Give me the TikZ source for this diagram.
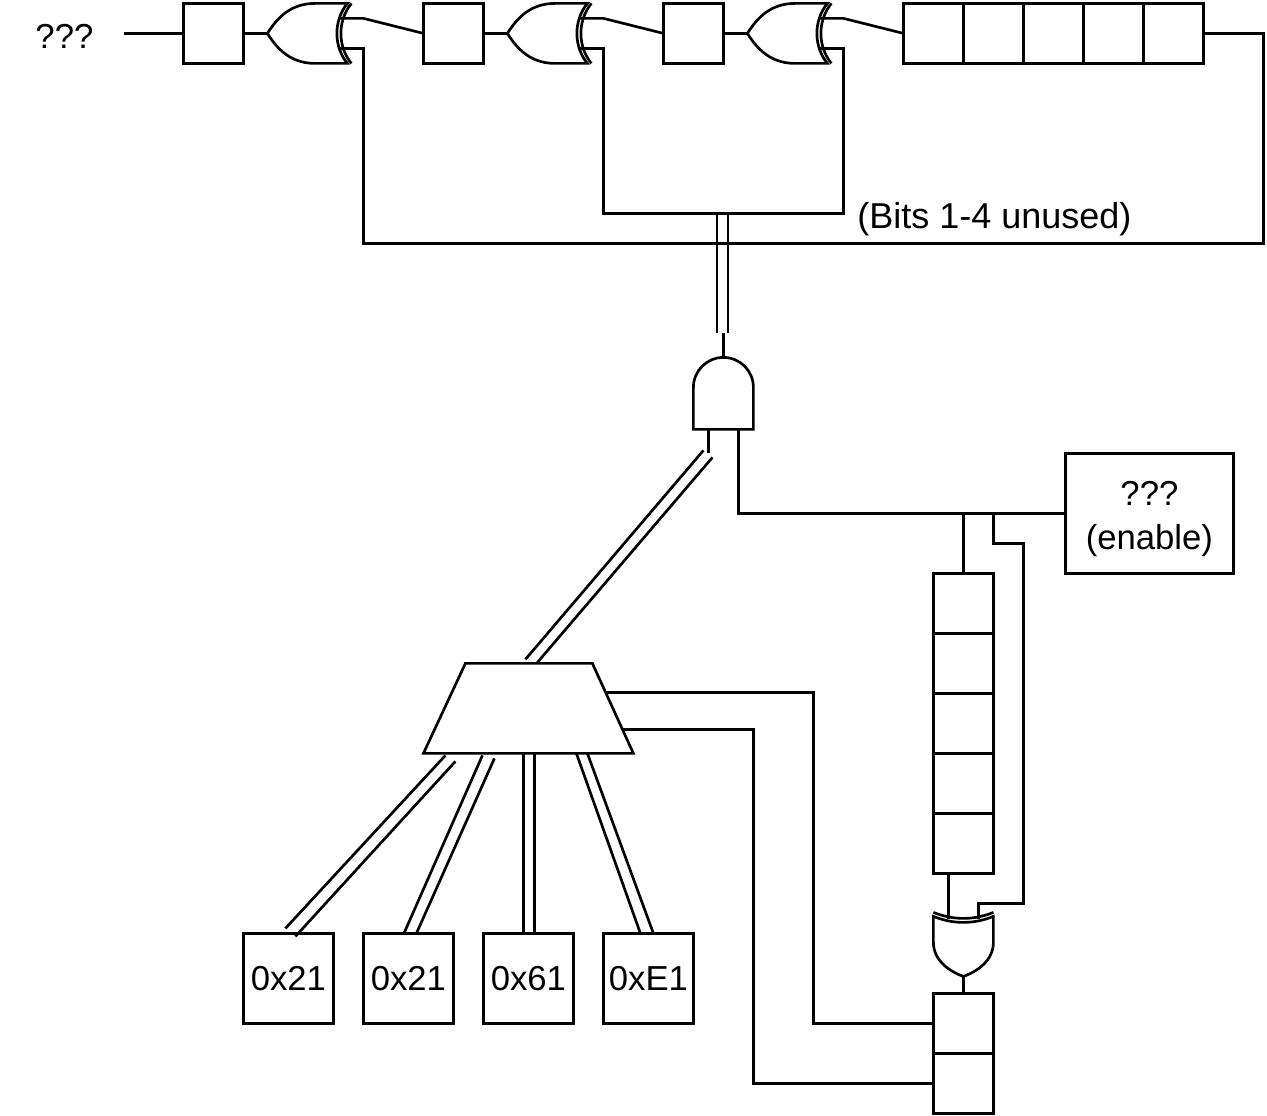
\documentclass[tikz,border=0pt]{standalone}
\usepackage{fontspec}
\setmainfont{Liberation Sans}
\usetikzlibrary{calc}
\tikzset{
  wire/.style={line width=2pt,line join=miter},
  gate/.style={line width=2pt,fill=white},
  cell/.style={draw,line width=2pt,inner sep=0pt,outer sep=0pt,rectangle,fill=white,minimum width=45pt,minimum height=45pt},
  wide cell/.style={cell,minimum width=67.5pt,minimum height=67.5pt},
  label text/.style={inner sep=0pt,outer sep=0pt,font=\fontsize{26pt}{33pt}\selectfont,align=center},
  xor right/.pic={
    \draw[gate] (0,0) .. controls (13,-21) and (28,-30) .. (48,-30) -- (80,-30)
       .. controls (66,-13) and (66,13) .. (80,30) -- (48,30)
       .. controls (28,30) and (13,21) .. (0,0) -- cycle;
    \draw[gate,fill=none] (84,-30) .. controls (70,-13) and (70,13) .. (84,30);
    \coordinate (-in) at (0,0);
    \coordinate (-a) at (71,-15);
    \coordinate (-b) at (71,15);
  },
  xor down/.pic={
    \draw[gate] (-30,0) .. controls (-10,8) and (10,8) .. (30,0) -- (30,26)
       .. controls (30,44) and (14,55) .. (0,60)
       .. controls (-14,55) and (-30,44) .. (-30,26) -- cycle;
    \draw[gate,fill=none] (-30,-4) .. controls (-10,4) and (10,4) .. (30,-4);
    \coordinate (-a) at (-15,3);
    \coordinate (-b) at (15,3);
    \coordinate (-out) at (0,60);
  }
}
\newcommand{\boxtext}[1]{\raisebox{-2.4pt}{#1}}
\begin{document}
\begin{tikzpicture}[x=0.75pt,y=-0.75pt]
\useasboundingbox (0,0) rectangle (1267,1115);
\fill[white] (0,0) rectangle (1267,1115);
\begin{scope}[shift={(0.4,0.4)}]

% top row
\node[label text] (q1) at (64,36) {???};
\coordinate (start) at (124,33);
\node[cell] (r1) at (213,33) {};
\node[cell] (r2) at (453,33) {};
\node[cell] (r3) at (693,33) {};
\node[cell] (s1) at (933,33) {};
\node[cell] (s2) at (993,33) {};
\node[cell] (s3) at (1053,33) {};
\node[cell] (s4) at (1113,33) {};
\node[cell] (s5) at (1173,33) {};
\pic (x1) at (267,33) {xor right};
\pic (x2) at (507,33) {xor right};
\pic (x3) at (747,33) {xor right};

\draw[wire] (start) -- (r1.west);
\draw[wire] (r1.east) -- (x1-in);
\draw[wire] (r2.east) -- (x2-in);
\draw[wire] (r3.east) -- (x3-in);
\draw[wire] (x1-a) -- ($(x1-a)+(25,0)$) -- (r2.west);
\draw[wire] (x2-a) -- ($(x2-a)+(25,0)$) -- (r3.west);
\draw[wire] (x3-a) -- ($(x3-a)+(25,0)$) -- (s1.west);

\coordinate (tapa) at (603,213);
\coordinate (tapb) at (843,213);
\coordinate (fbl) at (363,243);
\coordinate (fbr) at (1263,243);
\draw[wire] (x1-b) -| (fbl) -- (fbr) |- (s5.east);
\draw[wire] (x2-b) -| (tapa) -- (tapb) |- (x3-b);

\node[label text,anchor=west,font=\fontsize{27pt}{33pt}\selectfont] (bits) at (857,219) {(Bits 1-4 unused)};

% AND gate
\coordinate (andtop) at (723,357);
\coordinate (andin) at (723,333);
\draw[gate] (693,429) -- (693,387) arc[start angle=180,end angle=360,radius=30] -- (753,429) -- cycle;
\draw[wire] (andin) -- (andtop);
\coordinate (bus1t) at (716.5,213);
\coordinate (bus1b) at (716.5,333);
\coordinate (bus2t) at (727.5,213);
\coordinate (bus2b) at (727.5,333);
\draw[wire] (bus1t) -- (bus1b);
\draw[wire] (bus2t) -- (bus2b);

\coordinate (ando1) at (708,429);
\coordinate (ando1e) at (708,453);
\coordinate (ando2) at (738,429);
\draw[wire] (ando1) -- (ando1e);

% enable box
\node[cell,minimum width=126pt,minimum height=90pt] (en) at (1149,513) {};
\node[label text] (entext) at (1149,519) {???\\(enable)};
\draw[wire] (ando2) |- (en.west);

% upper stack
\node[cell] (u1) at (963,603) {};
\node[cell] (u2) at (963,663) {};
\node[cell] (u3) at (963,723) {};
\node[cell] (u4) at (963,783) {};
\node[cell] (u5) at (963,843) {};
\coordinate (j1) at (963,513);
\coordinate (j2) at (993,513);
\coordinate (k1) at (1023,543);
\coordinate (k2) at (1023,903);
\draw[wire] (j1) -- (u1.north);
\pic (x4) at (963,916) {xor down};
\draw[wire] (j2) |- (k1) -- (k2) -| (x4-b);
\draw[wire] ($(u5.south)+(-15,0)$) -- (x4-a);

% lower stack
\node[cell] (l1) at (963,1023) {};
\node[cell] (l2) at (963,1083) {};
\draw[wire] (x4-out) -- (l1.north);

% mux
\coordinate (mtl) at (465,663);
\coordinate (mtr) at (592,663);
\coordinate (mbr) at (633,753);
\coordinate (mbl) at (423,753);
\draw[gate] (mtl) -- (mtr) -- (mbr) -- (mbl) -- cycle;
\coordinate (ma1) at (525,659);
\coordinate (ma2) at (537,662);
\coordinate (an1) at (703,450);
\coordinate (an2) at (712,457);
\draw[wire] (an1) -- (ma1);
\draw[wire] (an2) -- (ma2);

\coordinate (mr1) at (605,692);
\coordinate (mr2) at (622,729);
\draw[wire] (mr1) -- (813,692) |- (l1.west);
\draw[wire] (mr2) -- (753,729) |- (l2.west);

% constants
\node[wide cell,label text] (c1) at (288,978) {\boxtext{0x21}};
\node[wide cell,label text] (c2) at (408,978) {\boxtext{0x21}};
\node[wide cell,label text] (c3) at (528,978) {\boxtext{0x61}};
\node[wide cell,label text] (c4) at (648,978) {\boxtext{0xE1}};

\coordinate (a1) at (445,755); \coordinate (b1) at (285,928);
\coordinate (a2) at (455,761); \coordinate (b2) at (295,936);
\coordinate (a3) at (482,755); \coordinate (b3) at (404,932);
\coordinate (a4) at (494,758); \coordinate (b4) at (416,933);
\coordinate (a5) at (523,753); \coordinate (b5) at (523,933);
\coordinate (a6) at (534,753); \coordinate (b6) at (534,933);
\coordinate (a7) at (576,753); \coordinate (b7) at (640,933);
\coordinate (a8) at (587,753); \coordinate (b8) at (653,933);
\foreach \i in {1,...,8} \draw[wire] (a\i) -- (b\i);
\end{scope}
\end{tikzpicture}
\end{document}
